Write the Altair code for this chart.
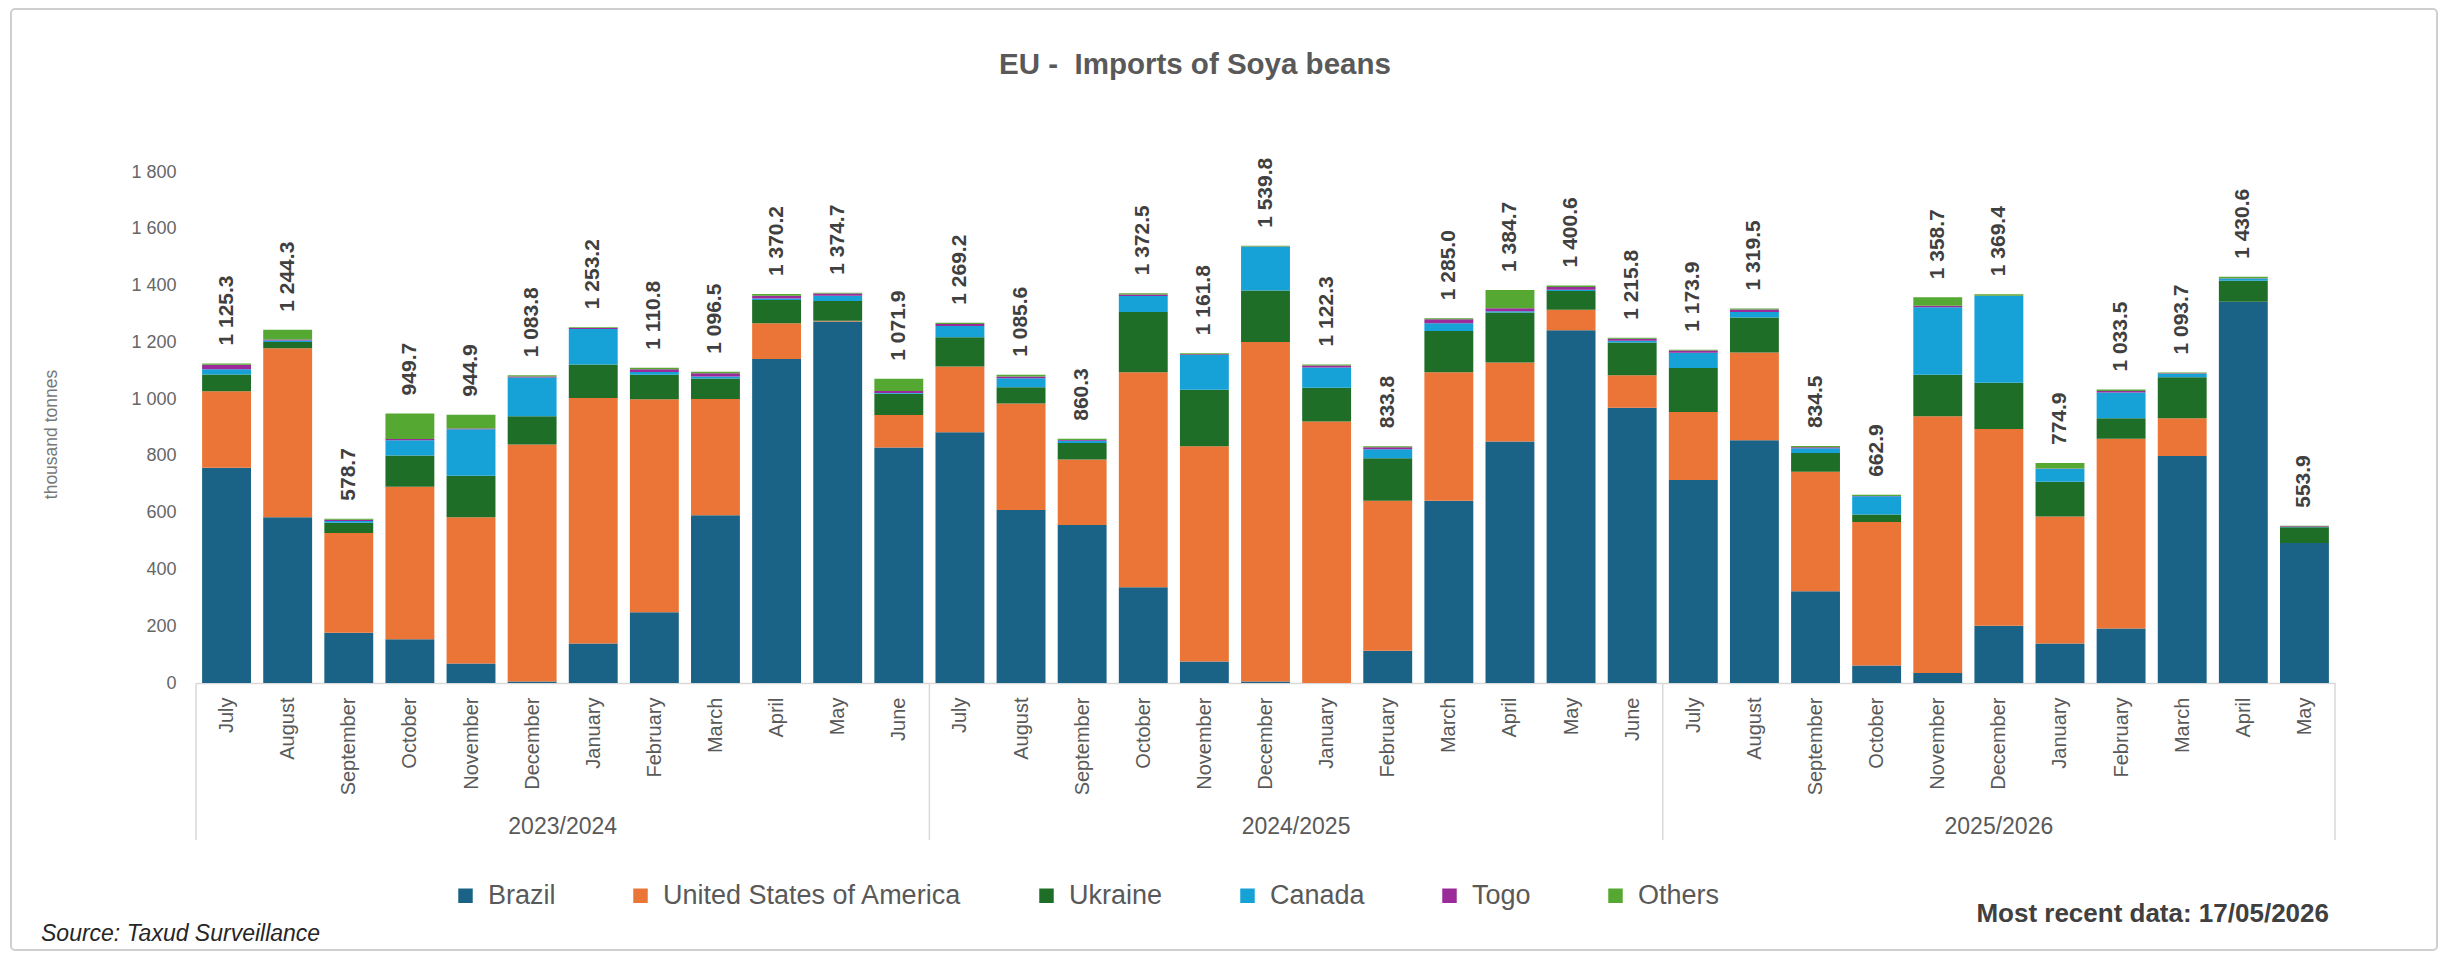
import json
import altair as alt
import pandas as pd

# ---------------- data ----------------
years = ["2023/2024", "2024/2025", "2025/2026"]
months_full = ["July", "August", "September", "October", "November", "December",
               "January", "February", "March", "April", "May", "June"]
months_by_year = [months_full, months_full, months_full[:11]]

origins = ["Brazil", "United States of America", "Ukraine", "Canada", "Togo", "Others"]
colors = ["#1b6386", "#eb7537", "#1f6e27", "#16a1d7", "#9b2b9a", "#55a832"]

brazil = [758.3, 584, 177, 154, 69, 5, 139, 249, 590.5, 1141.2, 1273.7, 829.9,
          883.2, 609, 556.3, 337, 76, 5, 0, 114, 642, 850.7, 1242.6, 969.8,
          714.9, 855.5, 323, 62, 35, 202, 139, 192, 799.7, 1342.6, 492.9]
usa = [269, 595.3, 351.7, 537.7, 514.9, 834.8, 865.2, 750.8, 410, 126, 2, 114,
       232, 375.6, 231, 757.5, 757.8, 1195.8, 921.3, 527.8, 453, 278, 72, 114,
       240, 309, 421.5, 504.9, 904.7, 692.4, 447.9, 668.5, 133, 0, 0]
ukraine = [59, 22, 36, 110, 146, 100, 118, 86, 72, 82, 70, 75,
           103, 57, 58, 212, 199, 182, 119, 150, 145, 176, 66, 116,
           155, 123, 66, 27, 146, 163, 122, 72, 144, 74, 56]
canada = [19, 5, 6, 53, 164, 136, 125, 10, 7, 5, 18, 3,
          39, 32, 8, 57, 123, 154, 71, 32, 27, 5, 5, 6,
          53, 19, 16, 64, 238, 306, 46, 91, 13, 8, 1]
togo = [16, 4, 4, 5, 3, 4, 3, 9, 12, 10, 8, 7,
        7, 6, 3, 5, 2, 1, 7, 7, 14, 10, 9, 7,
        8, 9, 4, 1, 5, 1, 1, 5, 1, 1, 2]
others = [4, 34, 4, 90, 48, 4, 3, 6, 5, 6, 3, 43,
          5, 6, 4, 4, 4, 2, 4, 3, 4, 65, 6, 3,
          3, 4, 4, 4, 30, 5, 19, 5, 3, 5, 2]
series = [brazil, usa, ukraine, canada, togo, others]

title_text = "EU - \u00a0Imports of Soya beans"
source_text = "Source: Taxud Surveillance"
recent_text = "Most recent data: 17/05/2026"
y_title = "thousand tonnes"

# ---------------- tables built from the lists ----------------
month_labels = [m for ms in months_by_year for m in ms]
year_of = [y for y, ms in zip(years, months_by_year) for _ in ms]
n = len(month_labels)

rows = []
for k, (name, vals) in enumerate(zip(origins, series)):
    for i in range(n):
        rows.append({"idx": i, "year": year_of[i], "month": month_labels[i],
                     "origin": name, "order": k, "value": vals[i]})
df = pd.DataFrame(rows)

starts, centers = [], []
pos = 0
for ms in months_by_year:
    starts.append(pos)
    centers.append(pos + len(ms) / 2)
    pos += len(ms)
bounds_df = pd.DataFrame({"b": starts + [pos]})
years_df = pd.DataFrame({"year": years, "center": centers})

W, H = 2139, 511
FONT = "Liberation Sans, Arial, sans-serif"

xscale = alt.Scale(domain=[0, n], nice=False, zero=False)
yscale = alt.Scale(domain=[0, 1800], nice=False)

xaxis = alt.Axis(title=None, values=[i + 0.5 for i in range(n)],
                 labelExpr=json.dumps(month_labels) + "[floor(datum.value)]",
                 labelAngle=-90, labelFontSize=20, labelColor="#595959",
                 labelFont=FONT, labelPadding=14, ticks=False, tickSize=0,
                 grid=False, domainColor="#d9d9d9", domainWidth=1.5,
                 labelOverlap=False, labelBound=False, labelFlush=False)
yaxis = alt.Axis(title=y_title, values=list(range(0, 1801, 200)),
                 labelExpr="replace(format(datum.value, ','), ',', ' ')",
                 labelFontSize=18, labelColor="#666666", labelFont=FONT,
                 labelPadding=20, ticks=False, tickSize=0, domain=False,
                 grid=False, titleFontSize=17.5, titleColor="#777777",
                 titleFont=FONT, titleFontWeight="normal",
                 titleX=-145, titleY=262, titleAngle=-90,
                 titleAlign="center", titleBaseline="middle")

base = alt.Chart(df)

bars = base.transform_calculate(
    x0="datum.idx + 0.1", x1="datum.idx + 0.9"
).transform_stack(
    stack="value", groupby=["idx"], as_=["y0", "y1"],
    sort=[alt.SortField("order", order="ascending")]
).mark_bar().encode(
    x=alt.X("x0:Q", scale=xscale, axis=xaxis),
    x2="x1:Q",
    y=alt.Y("y0:Q", scale=yscale, axis=yaxis),
    y2="y1:Q",
    color=alt.Color("origin:N", scale=alt.Scale(domain=origins, range=colors),
                    legend=alt.Legend(title=None, orient="none", direction="horizontal",
                                      legendX=256, legendY=710, symbolType="square",
                                      symbolSize=210, symbolStrokeWidth=0,
                                      labelFontSize=27, labelColor="#595959",
                                      labelFont=FONT, labelOffset=9, labelLimit=600,
                                      columnPadding=71)),
    order=alt.Order("order:Q"),
)

labels = base.transform_aggregate(
    total="sum(value)", groupby=["idx"]
).transform_calculate(
    xc="datum.idx + 0.5",
    label="replace(format(datum.total, ',.1f'), ',', ' ')"
).mark_text(angle=270, align="left", baseline="middle", dx=18,
            fontSize=21, fontWeight="bold", font=FONT, color="#404040").encode(
    x=alt.X("xc:Q", scale=xscale, axis=xaxis),
    y=alt.Y("total:Q", scale=yscale, axis=yaxis),
    text="label:N",
)

seps = alt.Chart(bounds_df).mark_rule(color="#d9d9d9", strokeWidth=1.5).encode(
    x=alt.X("b:Q", scale=xscale, axis=xaxis),
    y=alt.value(H),
    y2=alt.value(H + 157),
)

year_labels = alt.Chart(years_df).mark_text(
    fontSize=23, font=FONT, color="#595959", align="center", baseline="middle"
).encode(
    x=alt.X("center:Q", scale=xscale, axis=xaxis),
    y=alt.value(H + 144),
    text="year:N",
)

title = alt.Chart(pd.DataFrame({"t": [title_text]})).mark_text(
    fontSize=29.5, fontWeight="bold", font=FONT, color="#595959",
    align="center", baseline="middle"
).encode(x=alt.value(999), y=alt.value(-107), text="t:N")

source = alt.Chart(pd.DataFrame({"t": [source_text]})).mark_text(
    fontSize=23, fontStyle="italic", font=FONT, color="#262626",
    align="left", baseline="middle"
).encode(x=alt.value(-155), y=alt.value(762), text="t:N")

recent = alt.Chart(pd.DataFrame({"t": [recent_text]})).mark_text(
    fontSize=26, fontWeight="bold", font=FONT, color="#404040",
    align="right", baseline="middle"
).encode(x=alt.value(2133), y=alt.value(742), text="t:N")

frame = alt.Chart(pd.DataFrame({"t": [""]})).mark_rect(
    fill="white", fillOpacity=0, stroke="#cfcfcf", strokeWidth=2, cornerRadius=4
).encode(x=alt.value(-185), x2=alt.value(2241), y=alt.value(-163), y2=alt.value(778))

chart = alt.layer(
    frame, bars, labels, seps, year_labels, title, source, recent
).properties(
    width=W, height=H,
    autosize=alt.AutoSizeParams(type="none"),
    padding={"left": 188, "top": 164, "right": 104, "bottom": 268},
    background="white",
).configure_view(stroke=None)

chart.save("out.html", embed_options={"renderer": "svg", "actions": False})
